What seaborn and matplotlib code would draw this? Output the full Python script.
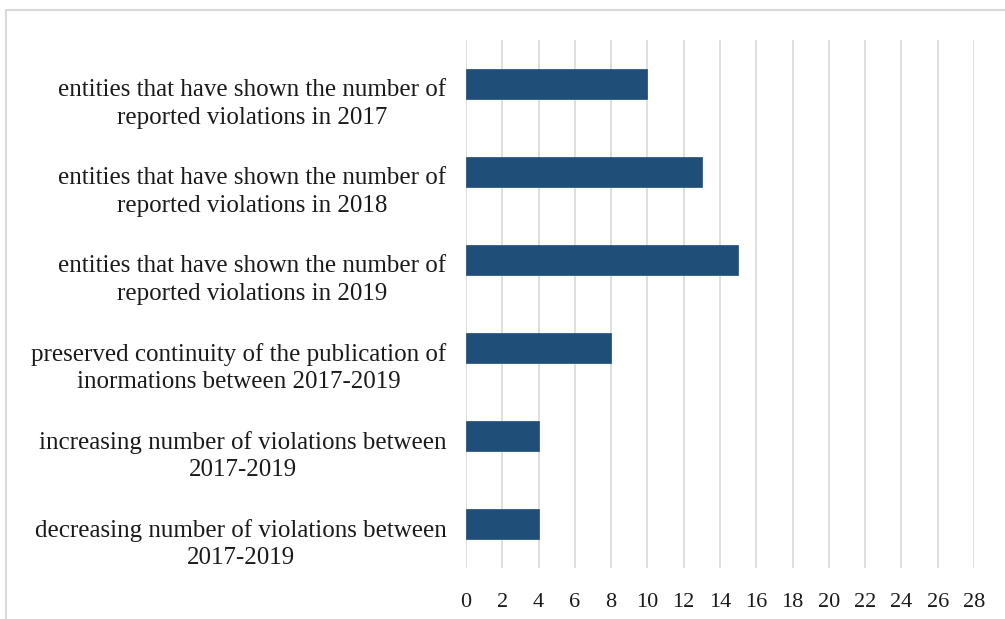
import matplotlib
matplotlib.use("Agg")
import matplotlib.pyplot as plt
import matplotlib.transforms as mtransforms
import seaborn as sns
import pandas as pd
from matplotlib.patches import Rectangle

categories = [
    "entities that have shown the number of\nreported violations in 2017",
    "entities that have shown the number of\nreported violations in 2018",
    "entities that have shown the number of\nreported violations in 2019",
    "preserved continuity of the publication of\ninormations between 2017-2019",
    "increasing number of violations between\n2017-2019",
    "decreasing number of violations between\n2017-2019",
]
values = [10, 13, 15, 8, 4, 4]
x_ticks = list(range(0, 29, 2))

sns.set_theme(style="white")
plt.rcParams['font.family'] = ['Liberation Serif', 'DejaVu Serif']

df = pd.DataFrame({"category": categories, "value": values})

fig = plt.figure(figsize=(10.05, 6.19), dpi=100)
ax = fig.add_axes([466/1005, 1 - 568/619, (974-466)/1005, (568-40)/619])

sns.barplot(data=df, y="category", x="value", orient="h", color="#1F4E79",
            width=0.34, saturation=1, edgecolor="#1F4E79", linewidth=0.5, ax=ax, zorder=3)

ax.set_xlim(0, 28)
ax.set_xticks(x_ticks)
ax.set_xticklabels([str(t) for t in x_ticks])
ax.set_xlabel("")
ax.set_ylabel("")
ax.grid(axis="x", color="#d9d9d9", linewidth=1.2, zorder=0)
ax.grid(axis="y", visible=False)
for s in ax.spines.values():
    s.set_visible(False)
ax.tick_params(axis="x", length=0, pad=18, labelsize=16, colors="#1a1a1a")
ax.tick_params(axis="y", length=0, pad=14, labelsize=18, colors="#1a1a1a")
offset = mtransforms.ScaledTranslation(0, -15/100, fig.dpi_scale_trans)
for lab in ax.get_yticklabels():
    lab.set_multialignment("center")
    lab.set_linespacing(1.32)
    lab.set_transform(lab.get_transform() + offset)

fig.patches.append(Rectangle((6/1005, -0.1), 1.1, 1 - 10/619 + 0.1, transform=fig.transFigure,
                             fill=False, edgecolor="#d9d9d9", linewidth=1.5))

fig.savefig("out.png", dpi=100, facecolor="white")
